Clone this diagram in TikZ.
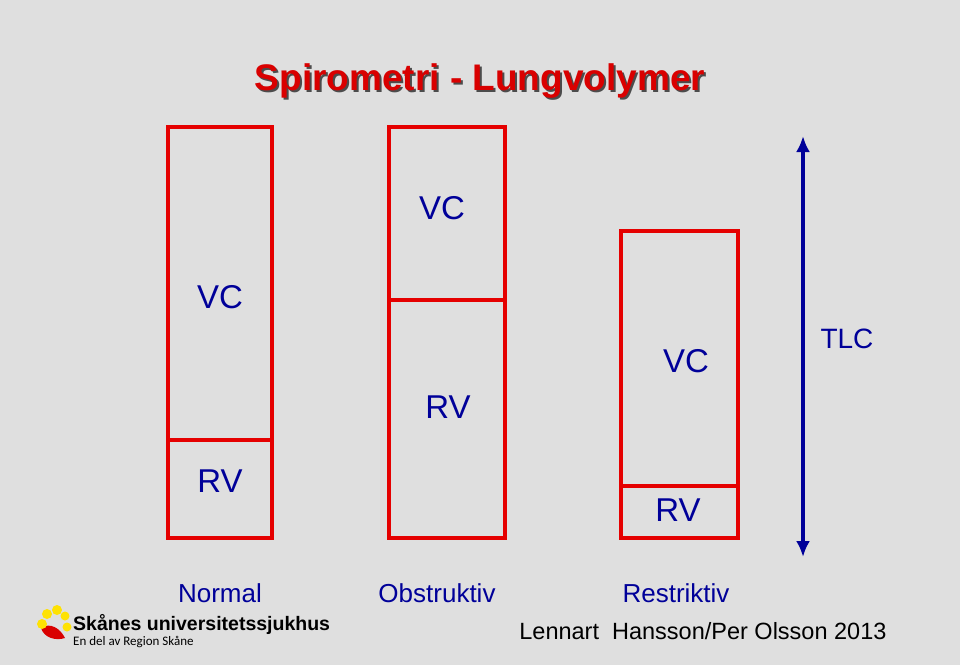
\documentclass[tikz,border=0pt]{standalone}
\usepackage{fontspec}
\setmainfont{Liberation Sans}
\newfontfamily\narrowfont{Carlito}
\usetikzlibrary{arrows.meta}
\begin{document}
\begin{tikzpicture}[x=1pt,y=-1pt,
  box/.style={draw=red!90!black,line width=3.2pt},
  lbl/.style={text=blue!60!black,font=\fontsize{33}{35}\selectfont},
  cat/.style={text=blue!60!black,font=\fontsize{26}{28}\selectfont}]
\fill[gray!25] (0,0) rectangle (960,665);
\useasboundingbox (0,0) rectangle (960,665);
\node[text=black!70,font=\bfseries\fontsize{37}{39}\selectfont] (tsh) at (482,83) {Spirometri - Lungvolymer};
\node[text=red!85!black,font=\bfseries\fontsize{37}{39}\selectfont] (title) at (480,81) {Spirometri - Lungvolymer};
% Normal
\draw[box] (168,127) rectangle (272,538);
\draw[box] (168,440) -- (272,440);
\node[lbl] (n1) at (220,297) {VC};
\node[lbl] (n2) at (220,481) {RV};
% Obstruktiv
\draw[box] (389,127) rectangle (505,538);
\draw[box] (389,300) -- (505,300);
\node[lbl] (o1) at (442,208) {VC};
\node[lbl] (o2) at (448,407) {RV};
% Restriktiv
\draw[box] (621,231) rectangle (738,538);
\draw[box] (621,486) -- (738,486);
\node[lbl] (r1) at (686,361) {VC};
\node[lbl] (r2) at (678,510) {RV};
% TLC
\coordinate (at) at (803,136);
\coordinate (ab) at (803,557);
\draw[blue!60!black,line width=3.5pt,{Latex[length=16pt,width=14pt]}-{Latex[length=16pt,width=14pt]}] (ab) -- (at);
\node[text=blue!60!black,font=\fontsize{28}{30}\selectfont] (tlc) at (847,339) {TLC};
\node[cat] (c1) at (220,593) {Normal};
\node[cat] (c2) at (437,593) {Obstruktiv};
\node[cat] (c3) at (676,593) {Restriktiv};
\node[font=\fontsize{23.5}{25}\selectfont,anchor=east] (auth) at (890,631) {Lennart\ \ Hansson/Per Olsson 2013};
% logo
\fill[red!85!black] (41,628) .. controls (50,622) and (60,628) .. (65,638) .. controls (56,641) and (44,638) .. (41,628);
\fill[yellow!85!orange] (42,624) circle (5);
\fill[yellow!85!orange] (47,614) circle (5);
\fill[yellow!85!orange] (57,610) circle (5);
\fill[yellow!85!orange] (65,616) circle (4.5);
\fill[yellow!85!orange] (67,627) circle (4.5);
\node[font=\bfseries\fontsize{19.5}{21}\selectfont,anchor=west,inner sep=0] (sus) at (73,624) {Skånes universitetssjukhus};
\node[font=\narrowfont\fontsize{13}{14}\selectfont,anchor=west,inner sep=0] (reg) at (73,642) {En del av Region Skåne};
\end{tikzpicture}
\end{document}
